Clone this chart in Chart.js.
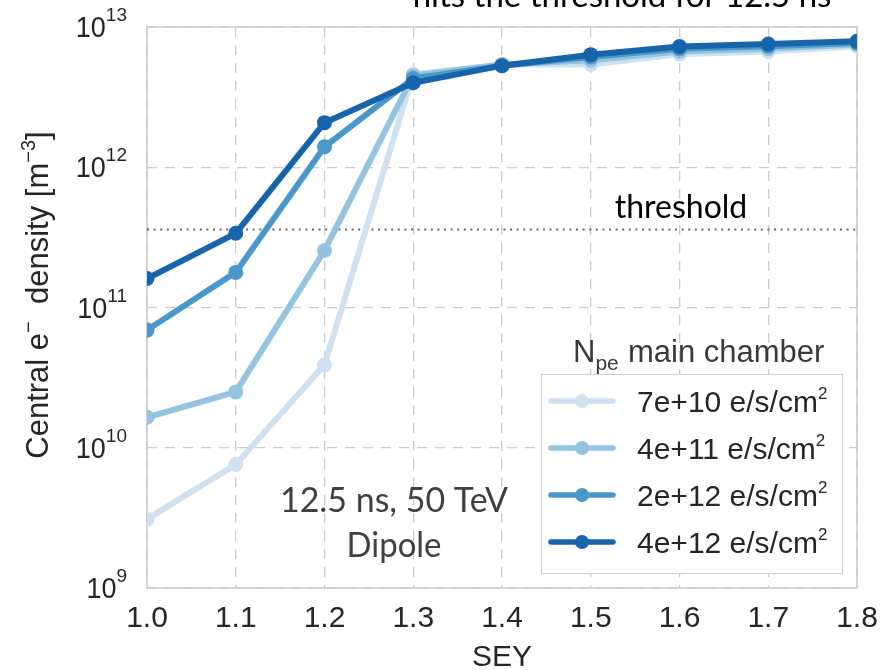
<!DOCTYPE html>
<html>
<head>
<meta charset="utf-8">
<script src="https://cdn.jsdelivr.net/npm/chart.js@4.4.0/dist/chart.umd.min.js"></script>
<style>
    html, body { margin: 0; padding: 0; background: #fff; }
</style>
</head>
<body>
<canvas id="chart" width="894" height="670"></canvas>
<script>
// SEY values on the x axis
const sey = [1.0, 1.1, 1.2, 1.3, 1.4, 1.5, 1.6, 1.7, 1.8];

// central electron density [m^-3] per photoelectron rate
const npe7e10 = [3.1e9, 7.6e9, 3.9e10, 4.6e12, 5.4e12, 5.4e12, 6.4e12, 6.7e12, 7.3e12];
const npe4e11 = [1.65e10, 2.5e10, 2.55e11, 4.5e12, 5.4e12, 5.8e12, 6.7e12, 7.0e12, 7.5e12];
const npe2e12 = [6.9e10, 1.78e11, 1.4e12, 4.3e12, 5.3e12, 6.1e12, 7.0e12, 7.3e12, 7.7e12];
const npe4e12 = [1.61e11, 3.38e11, 2.08e12, 4.0e12, 5.3e12, 6.35e12, 7.25e12, 7.55e12, 7.9e12];

const seriesLabels = ["7e+10 e/s/cm", "4e+11 e/s/cm", "2e+12 e/s/cm", "4e+12 e/s/cm"];
const seriesColors = ["#d0e1f2", "#94c4df", "#4a98c9", "#1764ab"];

const xTicks = [1.0, 1.1, 1.2, 1.3, 1.4, 1.5, 1.6, 1.7, 1.8];
const yTicks = [1e9, 1e10, 1e11, 1e12, 1e13];
const threshold = 3.6e11;

const sans = "'Liberation Sans', Arial, sans-serif";
const calibri = "Lato, 'Open Sans', sans-serif";

const seriesValues = [npe7e10, npe4e11, npe2e12, npe4e12];

const datasets = seriesValues.map((vals, i) => ({
    label: seriesLabels[i],
    data: sey.map((x, j) => ({ x: x, y: vals[j] })),
    borderColor: seriesColors[i],
    backgroundColor: seriesColors[i],
    borderWidth: 6,
    pointRadius: 7.5,
    pointHoverRadius: 7.5,
    pointBorderWidth: 0,
    tension: 0,
    clip: 0,
    order: 4 - i, // darkest on top
}));

// threshold line
datasets.push({
    label: "threshold",
    data: [{ x: sey[0], y: threshold }, { x: sey[sey.length - 1], y: threshold }],
    borderColor: "#666666",
    borderWidth: 2,
    borderDash: [2, 4.6],
    pointRadius: 0,
    clip: 0,
    order: 10,
});

// text written with a superscript / subscript part
function drawRich(ctx, parts, x, y) {
    let cx = x;
    parts.forEach((p) => {
        ctx.font = p.font;
        ctx.fillText(p.text, cx, y + (p.dy || 0));
        cx += ctx.measureText(p.text).width;
    });
    return cx;
}

function fitText(ctx, text, cx, y, font, width) {
    ctx.font = font;
    ctx.textAlign = "center";
    ctx.fillText(text, cx, y, width);
}

const overlay = {
    id: "overlay",
    beforeDatasetsDraw(chart) {
        const { ctx, chartArea: a } = chart;
        ctx.save();
        ctx.strokeStyle = "#cccccc";
        ctx.lineWidth = 1.5;
        ctx.strokeRect(a.left, a.top, a.right - a.left, a.bottom - a.top);
        ctx.restore();
    },
    afterDraw(chart) {
        const { ctx } = chart;
        const yScale = chart.scales.y;
        ctx.save();
        ctx.textBaseline = "alphabetic";

        // y tick labels 10^n
        ctx.fillStyle = "#262626";
        yTicks.forEach((v) => {
            const py = yScale.getPixelForValue(v);
            const exp = String(Math.round(Math.log10(v)));
            ctx.font = "19px " + sans;
            const ew = ctx.measureText(exp).width;
            ctx.textAlign = "left";
            ctx.fillText(exp, 127 - ew, py - 6);
            ctx.font = "29px " + sans;
            ctx.textAlign = "right";
            ctx.fillText("10", 127 - ew, py + 10, 30);
        });

        // y axis title
        ctx.save();
        ctx.translate(48, 295);
        ctx.rotate(-Math.PI / 2);
        ctx.textAlign = "left";
        const titleParts = [
            { text: "Central e", font: "31px " + sans },
            { text: "\u2212", font: "20px " + sans, dy: -13 },
            { text: "  density [m", font: "31px " + sans },
            { text: "\u22123", font: "20px " + sans, dy: -13 },
            { text: "]", font: "31px " + sans },
        ];
        let total = 0;
        titleParts.forEach((p) => { ctx.font = p.font; total += ctx.measureText(p.text).width; });
        drawRich(ctx, titleParts, -total / 2, 0);
        ctx.restore();

        // annotations
        ctx.fillStyle = "#000000";
        fitText(ctx, "hits the threshold for 12.5 ns", 622, 7, "33px " + calibri, 435);
        fitText(ctx, "threshold", 681, 218, "32px " + calibri, 142);
        ctx.fillStyle = "#404040";
        fitText(ctx, "12.5 ns, 50 TeV", 394, 512, "34px " + calibri, 228);
        fitText(ctx, "Dipole", 394, 557, "34px " + calibri, 95);

        // legend
        ctx.fillStyle = "#ffffff";
        ctx.fillRect(541, 374, 301, 199);
        ctx.strokeStyle = "#d0d0d0";
        ctx.lineWidth = 1;
        ctx.strokeRect(541.5, 374.5, 301, 199);

        ctx.fillStyle = "#3a3a3a";
        ctx.textAlign = "left";
        drawRich(ctx, [
            { text: "N", font: "31px " + sans },
            { text: "pe", font: "21px " + sans, dy: 8 },
        ], 573, 362);
        ctx.font = "31px " + sans;
        ctx.fillText("main chamber", 628, 362, 202);

        const rows = [401, 448, 495, 542];
        chart.data.datasets.slice(0, 4).forEach((ds, i) => {
            const ry = rows[i];
            ctx.strokeStyle = ds.borderColor;
            ctx.lineWidth = 5.5;
            ctx.lineCap = "round";
            ctx.beginPath();
            ctx.moveTo(551, ry);
            ctx.lineTo(613, ry);
            ctx.stroke();
            ctx.fillStyle = ds.borderColor;
            ctx.beginPath();
            ctx.arc(582, ry, 7, 0, Math.PI * 2);
            ctx.fill();
            ctx.fillStyle = "#262626";
            drawRich(ctx, [
                { text: ds.label, font: "30px " + sans },
                { text: "2", font: "17px " + sans, dy: -13 },
            ], 637, ry + 10.5);
        });
        ctx.restore();
    },
};

new Chart(document.getElementById("chart"), {
    type: "line",
    data: { datasets: datasets },
    options: {
        responsive: false,
        animation: false,
        layout: { padding: { top: 27, right: 37, left: 0, bottom: 0 } },
        plugins: {
            legend: { display: false },
            tooltip: { enabled: false },
        },
        scales: {
            x: {
                type: "linear",
                min: 1.0,
                max: 1.8,
                afterBuildTicks: (s) => { s.ticks = xTicks.map((v) => ({ value: v })); },
                afterFit: (s) => { s.height = 82; },
                grid: {
                    color: "#cccccc",
                    lineWidth: 1.3,
                    drawTicks: false,
                },
                border: { display: false, dash: [10, 8] },
                ticks: {
                    padding: 16,
                    color: "#262626",
                    font: { family: sans, size: 30, lineHeight: 1 },
                    callback: (v) => Number(v).toFixed(1),
                },
                title: {
                    display: true,
                    text: "SEY",
                    color: "#262626",
                    font: { family: sans, size: 30, lineHeight: 0.8 },
                    padding: 0,
                },
            },
            y: {
                type: "logarithmic",
                min: 1e9,
                max: 1e13,
                afterBuildTicks: (s) => { s.ticks = yTicks.map((v) => ({ value: v })); },
                afterFit: (s) => { s.width = 147; },
                grid: {
                    color: "#cccccc",
                    lineWidth: 1.3,
                    drawTicks: false,
                },
                border: { display: false, dash: [10, 8] },
                ticks: { display: false },
            },
        },
    },
    plugins: [overlay],
});
</script>
</body>
</html>
